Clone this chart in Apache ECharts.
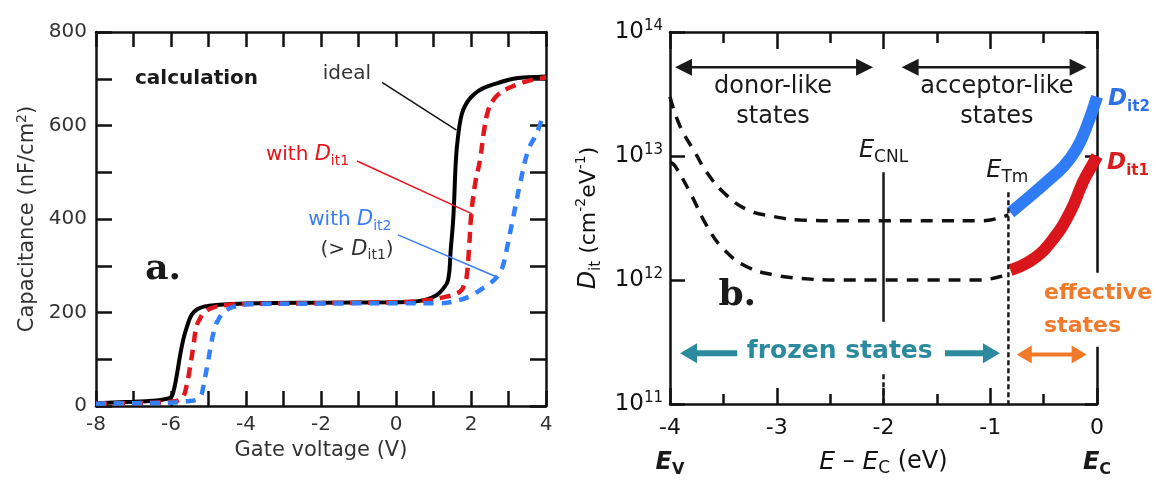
<!DOCTYPE html>
<html><head><meta charset="utf-8">
<script src="https://cdn.jsdelivr.net/npm/echarts@6/dist/echarts.min.js"></script>
<style>html,body{margin:0;padding:0;background:#fff}#c{width:1156px;height:482px}</style>
</head><body><div id="c"></div>
<script>
// ---------------- Panel a : C-V curves ----------------
const gateV_ideal = [-8, -7, -6.5, -6.2, -6.0, -5.94, -5.85, -5.76, -5.67, -5.58, -5.45, -5.3, -5.1, -4.8, -4, -2, 0, 0.46, 0.82, 1.08, 1.25, 1.39, 1.46, 1.53, 1.6, 1.66, 1.72, 1.79, 1.9, 2.02, 2.2, 2.42, 2.8, 3.13, 3.5, 4.0];
const cap_ideal   = [6, 9, 11, 14, 19, 29, 64, 107, 143, 168, 195, 207, 213, 216, 219, 221, 222, 223, 228, 237, 250, 270, 335, 405, 530, 580, 612, 633, 650, 662, 674, 683, 693, 700, 703, 705];
const gateV_dit1  = [-8, -7, -6.5, -6.0, -5.85, -5.76, -5.67, -5.58, -5.49, -5.4, -5.32, -5.22, -5.14, -4.9, -4.5, -4, -2, 0, 0.8, 1.35, 1.6, 1.75, 1.82, 1.885, 1.95, 2.01, 2.12, 2.24, 2.35, 2.46, 2.6, 2.77, 3.0, 3.31, 3.6, 4.0];
const cap_dit1    = [5, 6, 7, 9, 11, 14, 20, 45, 84, 130, 170, 188, 198, 210, 216, 218, 220, 222, 226, 234, 240, 248, 260, 277, 340, 412, 480, 526, 590, 633, 655, 669, 680, 690, 697, 703];
const gateV_dit2  = [-8, -7, -6, -5.58, -5.3, -5.2, -5.14, -5.07, -5.005, -4.94, -4.872, -4.8, -4.74, -4.69, -4.55, -4.34, -3.8, -2, 0, 1.17, 1.71, 2.0, 2.24, 2.5, 2.73, 2.85, 2.95, 3.04, 3.13, 3.31, 3.53, 3.75, 3.93];
const cap_dit2    = [5, 6, 7, 10, 14, 22, 41, 70, 98, 128, 155, 175, 184, 191, 203, 212, 218, 219, 220, 220, 227, 236, 248, 262, 280, 300, 334, 370, 405, 476, 548, 583, 625];
const gateTickLabels = [-8, -6, -4, -2, 0, 2, 4];
const capTickLabels  = [0, 200, 400, 600, 800];

// ---------------- Panel b : Dit distributions ----------------
const energy_frozenHigh = [-4, -3.906, -3.766, -3.656, -3.5, -3.28, -3.03, -2.78, -2.4, -2, -1.5, -1.1, -1.0, -0.9, -0.83];
const dit_frozenHigh    = [3.0e13, 1.74e13, 1.07e13, 7.4e12, 5.1e12, 3.7e12, 3.25e12, 3.05e12, 3.0e12, 3.0e12, 3.0e12, 3.0e12, 3.05e12, 3.2e12, 3.35e12];
const energy_frozenLow  = [-4, -3.953, -3.813, -3.656, -3.5, -3.28, -3.03, -2.78, -2.4, -2, -1.5, -1.1, -1.0, -0.9, -0.83];
const dit_frozenLow     = [9.0e12, 8.3e12, 5.1e12, 2.75e12, 1.78e12, 1.28e12, 1.1e12, 1.03e12, 1.0e12, 1.0e12, 1.0e12, 1.0e12, 1.02e12, 1.07e12, 1.12e12];
const energy_eff2 = [-0.81, -0.657, -0.47, -0.31, -0.19, -0.095, 0];
const dit_eff2    = [3.5e12, 4.5e12, 6.2e12, 8.3e12, 1.15e13, 1.74e13, 3.0e13];
const energy_eff1 = [-0.81, -0.595, -0.41, -0.25, -0.13, -0.03, 0];
const dit_eff1    = [1.2e12, 1.48e12, 2.14e12, 3.55e12, 6.2e12, 8.9e12, 1.0e13];
const E_CNL = -2;
const E_Tm = -0.83;
const energyTickLabels = [-4, -3, -2, -1, 0];

// ---------------- chart ----------------
const FONT = 'DejaVu Sans';
const SERIF = 'DejaVu Serif';
const zip = (xs, ys) => xs.map((x, i) => [x, ys[i]]);
const chart = echarts.init(document.getElementById('c'), null, {renderer: 'canvas'});

const axLine = {show: true, onZero: false, lineStyle: {color: '#111', width: 2.5}};
const tick = (len) => ({show: true, inside: true, length: len, lineStyle: {color: '#111', width: 2.5}});
const noLabel = {show: false};
const SM = 0.45;

const option = {
  animation: false,
  backgroundColor: '#fff',
  textStyle: {fontFamily: FONT},
  grid: [
    {left: 96, top: 32, width: 450, height: 374},
    {left: 670, top: 32, width: 427, height: 374}
  ],
  xAxis: [
    {gridIndex: 0, type: 'value', position: 'bottom', min: -8, max: 4, interval: 1,
     axisLine: axLine, axisTick: tick(15), splitLine: {show: false},
     axisLabel: {margin: 9, fontSize: 20, color: '#333', fontFamily: FONT,
       formatter: v => gateTickLabels.includes(v) ? String(v) : ''},
     name: 'Gate voltage (V)', nameLocation: 'middle', nameGap: 32,
     nameTextStyle: {fontSize: 21, color: '#333', fontFamily: FONT}},
    {gridIndex: 0, type: 'value', position: 'top', min: -8, max: 4, interval: 1,
     axisLine: axLine, axisTick: tick(15), splitLine: {show: false}, axisLabel: noLabel},
    {gridIndex: 1, type: 'value', position: 'bottom', min: -4, max: 0, interval: 1,
     axisLine: axLine, axisTick: tick(16), splitLine: {show: false},
     minorTick: {show: true, splitNumber: 2, length: 10, lineStyle: {color: '#111', width: 2.5}},
     axisLabel: {margin: 13, fontSize: 22, color: '#111', fontFamily: FONT,
       formatter: v => energyTickLabels.includes(v) ? String(v) : ''},
     name: '{i|E} – {i|E}{s|C} (eV)', nameLocation: 'middle', nameGap: 43,
     nameTextStyle: {fontSize: 24, color: '#111', fontFamily: FONT, lineHeight: 30,
       rich: {i: {fontSize: 25, fontStyle: 'italic', fontFamily: FONT, color: '#111'},
              s: {fontSize: 17, verticalAlign: 'bottom', fontFamily: FONT, color: '#111'}}}},
    {gridIndex: 1, type: 'value', position: 'top', min: -4, max: 0, interval: 1,
     axisLine: axLine, axisTick: tick(17), splitLine: {show: false},
     minorTick: {show: true, splitNumber: 2, length: 11, lineStyle: {color: '#111', width: 2.5}},
     axisLabel: noLabel}
  ],
  yAxis: [
    {gridIndex: 0, type: 'value', position: 'left', min: 0, max: 800, interval: 100,
     axisLine: axLine, axisTick: tick(16), splitLine: {show: false},
     axisLabel: {margin: 9, fontSize: 20, color: '#333', fontFamily: FONT,
       formatter: v => capTickLabels.includes(v) ? String(v) : ''},
     name: 'Capacitance (nF/cm{p|2})', nameLocation: 'middle', nameGap: 55,
     nameTextStyle: {fontSize: 21, color: '#333', fontFamily: FONT, lineHeight: 26,
       rich: {p: {fontSize: 14, verticalAlign: 'top', fontFamily: FONT, color: '#333'}}}},
    {gridIndex: 0, type: 'value', position: 'right', min: 0, max: 800, interval: 100,
     axisLine: axLine, axisTick: tick(16), splitLine: {show: false}, axisLabel: noLabel},
    {gridIndex: 1, type: 'log', logBase: 10, position: 'left', min: 1e11, max: 1e14, splitNumber: 3,
     axisLine: axLine, axisTick: tick(15), splitLine: {show: false}, minorTick: {show: false},
     axisLabel: {margin: 7, fontSize: 23, color: '#111', fontFamily: FONT, lineHeight: 26,
       formatter: v => '10{p|' + Math.round(Math.log10(v)) + '}',
       rich: {p: {fontSize: 15, verticalAlign: 'top', fontFamily: FONT, color: '#111'}}},
     name: '{i|D}{s|it} (cm{p|-2}eV{p|-1})', nameLocation: 'middle', nameGap: 66,
     nameTextStyle: {fontSize: 22, color: '#111', fontFamily: FONT, lineHeight: 30,
       rich: {i: {fontSize: 24, fontStyle: 'italic', fontFamily: FONT, color: '#111'},
              s: {fontSize: 15, verticalAlign: 'bottom', fontFamily: FONT, color: '#111'},
              p: {fontSize: 14, verticalAlign: 'top', fontFamily: FONT, color: '#111'}}}},
    {gridIndex: 1, type: 'log', logBase: 10, position: 'right', min: 1e11, max: 1e14, splitNumber: 3,
     axisLine: axLine, axisTick: tick(12), splitLine: {show: false}, minorTick: {show: false},
     axisLabel: noLabel}
  ],
  series: [
    {name: 'ideal', type: 'line', xAxisIndex: 0, yAxisIndex: 0, data: zip(gateV_ideal, cap_ideal),
     symbol: 'none', smooth: SM, z: 2,
     lineStyle: {color: '#000', width: 4}},
    {name: 'with Dit1', type: 'line', xAxisIndex: 0, yAxisIndex: 0, data: zip(gateV_dit1, cap_dit1),
     symbol: 'none', smooth: SM, z: 3,
     lineStyle: {color: '#e3161c', width: 4.5, type: [11, 7]}},
    {name: 'with Dit2', type: 'line', xAxisIndex: 0, yAxisIndex: 0, data: zip(gateV_dit2, cap_dit2),
     symbol: 'none', smooth: SM, z: 4,
     lineStyle: {color: '#3380ff', width: 4.5, type: [10, 8]}},
    {name: 'frozen high', type: 'line', xAxisIndex: 2, yAxisIndex: 2, data: zip(energy_frozenHigh, dit_frozenHigh),
     symbol: 'none', smooth: SM, z: 2,
     lineStyle: {color: '#111', width: 3.5, type: [12, 9]}},
    {name: 'frozen low', type: 'line', xAxisIndex: 2, yAxisIndex: 2, data: zip(energy_frozenLow, dit_frozenLow),
     symbol: 'none', smooth: SM, z: 2,
     lineStyle: {color: '#111', width: 3.5, type: [12, 9]}},
    {name: 'Dit2', type: 'line', xAxisIndex: 2, yAxisIndex: 2, data: zip(energy_eff2, dit_eff2),
     symbol: 'none', smooth: SM, z: 3,
     lineStyle: {color: '#2f7cf6', width: 12, cap: 'butt', join: 'round'}},
    {name: 'Dit1', type: 'line', xAxisIndex: 2, yAxisIndex: 2, data: zip(energy_eff1, dit_eff1),
     symbol: 'none', smooth: SM, z: 3,
     lineStyle: {color: '#d9161c', width: 12, cap: 'butt', join: 'round'}}
  ]
};
chart.setOption(option);

// ---------------- annotations (placed in data coordinates) ----------------
const pA = (x, y) => chart.convertToPixel({xAxisIndex: 0, yAxisIndex: 0}, [x, y]);
const pB = (x, y) => chart.convertToPixel({xAxisIndex: 2, yAxisIndex: 2}, [x, y]);

function text(p, str, st) {
  return {type: 'text', x: p[0], y: p[1], z: 100,
    style: Object.assign({text: str, fontFamily: FONT, align: 'center', verticalAlign: 'middle'}, st)};
}
function seg(a, b, color, width, dash) {
  return {type: 'line', z: 99, shape: {x1: a[0], y1: a[1], x2: b[0], y2: b[1]},
    style: {stroke: color, lineWidth: width, lineDash: dash || null}};
}
function arrow(from, to, color, width, headLen, headHalf, both) {
  const dx = to[0] - from[0], dy = to[1] - from[1], L = Math.hypot(dx, dy);
  const ux = dx / L, uy = dy / L;
  const s = both ? [from[0] + ux * headLen * 0.8, from[1] + uy * headLen * 0.8] : from;
  const e = [to[0] - ux * headLen * 0.8, to[1] - uy * headLen * 0.8];
  const head = (tip, vx, vy) => ({type: 'polygon', z: 100, shape: {points: [
    [tip[0], tip[1]],
    [tip[0] - vx * headLen - vy * headHalf, tip[1] - vy * headLen + vx * headHalf],
    [tip[0] - vx * headLen + vy * headHalf, tip[1] - vy * headLen - vx * headHalf]]},
    style: {fill: color}});
  const els = [seg(s, e, color, width), head(to, ux, uy)];
  if (both) els.push(head(from, -ux, -uy));
  return els;
}
const rich = (color, base, sub, opts) => Object.assign({
  i: {fontSize: base, fontStyle: 'italic', fontFamily: FONT, fill: color},
  s: {fontSize: sub, verticalAlign: 'bottom', fontFamily: FONT, fill: color}
}, opts || {});

const RED = '#e8141c', BLUE = '#3a7cf8', GREY = '#333';
const g = [];
// panel a
g.push(text(pA(-6.96, 699), 'calculation', {align: 'left', fontSize: 20, fontWeight: 'bold', fill: '#1a1a1a'}));
g.push(text(pA(-1.31, 710), 'ideal', {fontSize: 20, fill: GREY}));
g.push(seg(pA(-0.373, 692), pA(1.613, 590), '#111', 1.5));
g.push(text(pA(-2.36, 537), 'with {i|D}{s|it1}', {fontSize: 20, fill: RED, lineHeight: 26, rich: rich(RED, 21, 14)}));
g.push(seg(pA(-1.04, 524), pA(2.03, 411), RED, 1.5));
g.push(text(pA(-1.23, 398), 'with {i|D}{s|it2}', {fontSize: 20, fill: BLUE, lineHeight: 26, rich: rich(BLUE, 21, 14)}));
g.push(text(pA(-1.04, 334), '(> {i|D}{s|it1})', {fontSize: 20, fill: GREY, lineHeight: 26, rich: rich(GREY, 21, 14)}));
g.push(seg(pA(0.053, 366), pA(2.69, 276), BLUE, 1.5));
g.push(text(pA(-6.21, 291), 'a.', {fontFamily: SERIF, fontSize: 36, fontWeight: 'bold', fill: '#1a1a1a'}));

// panel b
const K = '#1a1a1a';
g.push(...arrow(pB(-3.953, 5.19e13), pB(-2.098, 5.19e13), K, 2.5, 17, 8.5, true));
g.push(...arrow(pB(-1.83, 5.19e13), pB(-0.097, 5.19e13), K, 2.5, 17, 8.5, true));
g.push(text(pB(-3.035, 2.72e13), 'donor-like\nstates', {fontSize: 24, lineHeight: 30, fill: K}));
g.push(text(pB(-0.937, 2.72e13), 'acceptor-like\nstates', {fontSize: 24, lineHeight: 30, fill: K}));
g.push(seg(pB(E_CNL, 7.4e12), pB(E_CNL, 4.6e11), K, 2.5));
g.push(seg(pB(E_CNL, 1.74e11), pB(E_CNL, 1e11), K, 2.5, [5, 3]));
g.push(seg(pB(E_Tm, 5.1e12), pB(E_Tm, 1e11), K, 2.5, [5, 3]));
g.push(text(pB(-2.0, 1.1e13), '{i|E}{s|CNL}', {fontSize: 24, fill: K, lineHeight: 30, rich: rich(K, 24, 17)}));
g.push(text(pB(-0.84, 7.6e12), '{i|E}{s|Tm}', {fontSize: 24, fill: K, lineHeight: 30, rich: rich(K, 24, 17)}));
const DB = '#2f6fe8', DR = '#d81e1e';
const boldRich = (c) => ({
  i: {fontSize: 23, fontStyle: 'italic', fontWeight: 'bold', fontFamily: FONT, fill: c},
  s: {fontSize: 15, fontWeight: 'bold', verticalAlign: 'bottom', fontFamily: FONT, fill: c}});
g.push(text(pB(0.103, 2.87e13), '{i|D}{s|it2}', {align: 'left', fontSize: 23, fill: DB, lineHeight: 30, rich: boldRich(DB)}));
g.push(text(pB(0.094, 8.7e12), '{i|D}{s|it1}', {align: 'left', fontSize: 23, fill: DR, lineHeight: 30, rich: boldRich(DR)}));
const ORANGE = '#f07a2a', TEAL = '#2b8a9d';
g.push(text(pB(-0.515, 5.75e11), 'effective\nstates', {align: 'left', fontSize: 22, fontWeight: 'bold',
  lineHeight: 33, fill: ORANGE, backgroundColor: '#fff', padding: [6, 4, 2, 2]}));
g.push(text(pB(-2.41, 2.66e11), 'frozen states', {fontSize: 25, fontWeight: 'bold', fill: TEAL}));
g.push(...arrow(pB(-3.37, 2.57e11), pB(-3.906, 2.57e11), TEAL, 6, 17, 10, false));
g.push(...arrow(pB(-1.424, 2.57e11), pB(-0.909, 2.57e11), TEAL, 6, 17, 10, false));
g.push(...arrow(pB(-0.752, 2.51e11), pB(-0.097, 2.51e11), ORANGE, 4, 15, 9, true));
g.push(text(pB(-3.37, 7.5e11), 'b.', {fontFamily: SERIF, fontSize: 36, fontWeight: 'bold', fill: K}));
const eRich = {
  b: {fontSize: 24, fontStyle: 'italic', fontWeight: 'bold', fontFamily: FONT, fill: K},
  s: {fontSize: 16, fontWeight: 'bold', verticalAlign: 'bottom', fontFamily: FONT, fill: K}};
const ev = pB(-4, 1e11), ec = pB(0, 1e11);
g.push(text([ev[0], ev[1] + 59], '{b|E}{s|V}', {fontSize: 24, lineHeight: 30, fill: K, rich: eRich}));
g.push(text([ec[0], ec[1] + 59], '{b|E}{s|C}', {fontSize: 24, lineHeight: 30, fill: K, rich: eRich}));

chart.setOption({graphic: g});
</script>
</body></html>
